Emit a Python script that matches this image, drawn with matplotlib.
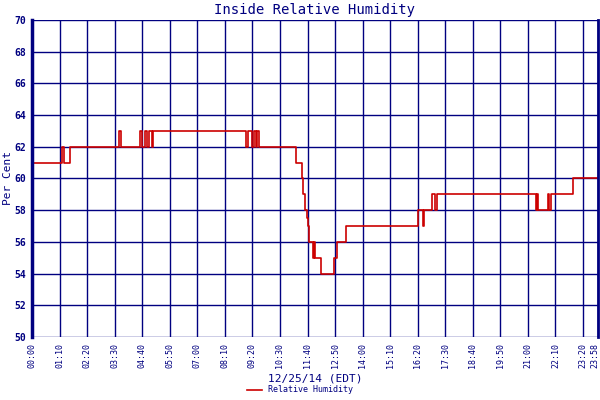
import matplotlib
matplotlib.use('Agg')
import matplotlib.pyplot as plt
from matplotlib.transforms import ScaledTranslation

# Inside relative humidity on 12/25/14, minutes since midnight -> percent
minutes = [0, 76, 81, 97, 221, 226, 274, 280, 287, 292, 297, 305, 307,
           544, 549, 559, 564, 569, 572, 577,
           671, 686, 689, 694, 699, 701, 704, 714, 717, 719, 734, 767, 775, 798,
           981, 986, 994, 996, 1016, 1024, 1029,
           1281, 1283, 1286, 1311, 1314, 1319, 1375, 1438]
humidity = [61, 62, 61, 62, 63, 62, 63, 62, 63, 62, 63, 62, 63,
            62, 63, 62, 63, 62, 63, 62,
            61, 60, 59, 58, 57.5, 57, 56, 55, 56, 55, 54, 55, 56, 57,
            58, 58, 57, 58, 59, 58, 59,
            58, 59, 58, 59, 58, 59, 60, 60]

tick_minutes = list(range(0, 1401, 70)) + [1438]
tick_labels = ['%02d:%02d' % (m // 60, m % 60) for m in tick_minutes]
y_ticks = list(range(50, 71, 2))

navy = '#000080'
plt.rcParams['font.family'] = 'DejaVu Sans Mono'

fig = plt.figure(figsize=(6, 4), dpi=100)
ax = fig.add_axes([32 / 600, 63 / 400, 566 / 600, 317 / 400])

ax.step(minutes, humidity, where='post', color='#cc0000', lw=1.2,
        label='Relative Humidity')

ax.set_xlim(0, 1438)
ax.set_ylim(50, 70)
ax.set_xticks(tick_minutes)
ax.set_xticklabels(tick_labels, rotation=90, fontsize=6, color=navy)
ax.set_yticks(y_ticks)
ax.set_yticklabels([str(v) for v in y_ticks], fontsize=7, color=navy,
                   fontweight='bold')
ax.tick_params(length=0, pad=4)
ax.grid(True, color=navy, lw=1)
ax.set_axisbelow(True)

# nudge the last (23:58) label so it stays inside the picture
last = ax.get_xticklabels()[-1]
last.set_transform(last.get_transform() +
                   ScaledTranslation(-3 / 100, 0, fig.dpi_scale_trans))

for side in ['top', 'bottom']:
    ax.spines[side].set_visible(False)
ax.spines['left'].set_color(navy)
ax.spines['left'].set_linewidth(2.5)
ax.spines['right'].set_color(navy)
ax.spines['right'].set_linewidth(2)

ax.set_title('Inside Relative Humidity', fontsize=10, color=navy, pad=4)
fig.text(8 / 600, 1 - 178 / 400, 'Per Cent', rotation=90, fontsize=8,
         color=navy, ha='center', va='center')
ax.set_xlabel('12/25/14 (EDT)', fontsize=8, color=navy, labelpad=4)

fig.legend(loc='lower center', bbox_to_anchor=(0.5, -0.005), frameon=False,
           fontsize=6, handlelength=1.8, labelcolor=navy)

fig.savefig('out.png', dpi=100, facecolor='white')
